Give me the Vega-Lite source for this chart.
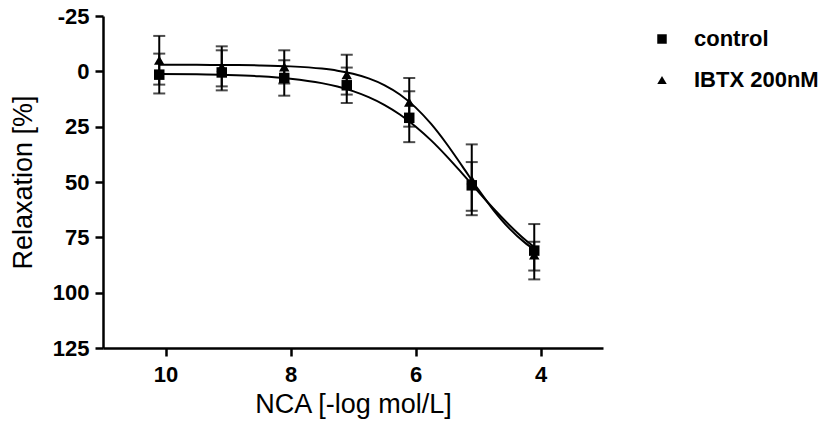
{
  "$schema": "https://vega.github.io/schema/vega-lite/v6.json",
  "width": 500,
  "height": 332,
  "autosize": "none",
  "padding": {"left": 103, "top": 16, "right": 226, "bottom": 77},
  "background": "white",
  "config": {
    "view": {"stroke": null},
    "font": "Liberation Sans",
    "axis": {
      "grid": false,
      "domainColor": "black",
      "domainWidth": 2.5,
      "tickColor": "black",
      "tickWidth": 2.5,
      "tickSize": 8,
      "labelFont": "Liberation Sans",
      "labelFontWeight": "bold",
      "labelFontSize": 22,
      "labelColor": "black",
      "titleFont": "Liberation Sans",
      "titleFontWeight": "normal",
      "titleFontSize": 27,
      "titleColor": "black"
    }
  },
  "datasets": {
    "points": [
      {"series": "control", "x": 10.1, "y": 1.5, "lo": -8, "hi": 10},
      {"series": "control", "x": 9.1, "y": 0.5, "lo": -9.5, "hi": 8.6},
      {"series": "control", "x": 8.1, "y": 3, "lo": -5, "hi": 11},
      {"series": "control", "x": 7.1, "y": 6.3, "lo": -1.7, "hi": 14.3},
      {"series": "control", "x": 6.1, "y": 21, "lo": 9, "hi": 32},
      {"series": "control", "x": 5.1, "y": 51.5, "lo": 41, "hi": 63},
      {"series": "control", "x": 4.1, "y": 81, "lo": 69, "hi": 94},
      {"series": "IBTX 200nM", "x": 10.1, "y": -5, "lo": -16, "hi": 6},
      {"series": "IBTX 200nM", "x": 9.1, "y": -2, "lo": -11.3, "hi": 6.8},
      {"series": "IBTX 200nM", "x": 8.1, "y": -2, "lo": -9.5, "hi": 5.5},
      {"series": "IBTX 200nM", "x": 7.1, "y": 1.5, "lo": -7.5, "hi": 10.5},
      {"series": "IBTX 200nM", "x": 6.1, "y": 14, "lo": 3, "hi": 25},
      {"series": "IBTX 200nM", "x": 5.1, "y": 49, "lo": 33, "hi": 65},
      {"series": "IBTX 200nM", "x": 4.1, "y": 83, "lo": 77, "hi": 90}
    ],
    "curves": [
      {"series": "control", "x": 10.1, "y": 1.16},
      {"series": "control", "x": 9.5, "y": 1.34},
      {"series": "control", "x": 9.0, "y": 1.65},
      {"series": "control", "x": 8.5, "y": 2.23},
      {"series": "control", "x": 8.0, "y": 3.32},
      {"series": "control", "x": 7.5, "y": 5.33},
      {"series": "control", "x": 7.25, "y": 6.88},
      {"series": "control", "x": 7.0, "y": 8.94},
      {"series": "control", "x": 6.75, "y": 11.65},
      {"series": "control", "x": 6.5, "y": 15.12},
      {"series": "control", "x": 6.25, "y": 19.5},
      {"series": "control", "x": 6.0, "y": 24.9},
      {"series": "control", "x": 5.75, "y": 31.2},
      {"series": "control", "x": 5.5, "y": 38.4},
      {"series": "control", "x": 5.25, "y": 46.2},
      {"series": "control", "x": 5.0, "y": 54.2},
      {"series": "control", "x": 4.75, "y": 62.1},
      {"series": "control", "x": 4.5, "y": 69.4},
      {"series": "control", "x": 4.25, "y": 76.0},
      {"series": "control", "x": 4.1, "y": 79.4},
      {"series": "IBTX 200nM", "x": 10.1, "y": -2.98},
      {"series": "IBTX 200nM", "x": 9.5, "y": -2.94},
      {"series": "IBTX 200nM", "x": 9.0, "y": -2.86},
      {"series": "IBTX 200nM", "x": 8.5, "y": -2.68},
      {"series": "IBTX 200nM", "x": 8.0, "y": -2.24},
      {"series": "IBTX 200nM", "x": 7.5, "y": -1.23},
      {"series": "IBTX 200nM", "x": 7.25, "y": -0.3},
      {"series": "IBTX 200nM", "x": 7.0, "y": 1.1},
      {"series": "IBTX 200nM", "x": 6.75, "y": 3.18},
      {"series": "IBTX 200nM", "x": 6.5, "y": 6.2},
      {"series": "IBTX 200nM", "x": 6.25, "y": 10.46},
      {"series": "IBTX 200nM", "x": 6.0, "y": 16.28},
      {"series": "IBTX 200nM", "x": 5.75, "y": 23.78},
      {"series": "IBTX 200nM", "x": 5.5, "y": 32.83},
      {"series": "IBTX 200nM", "x": 5.25, "y": 42.93},
      {"series": "IBTX 200nM", "x": 5.0, "y": 53.2},
      {"series": "IBTX 200nM", "x": 4.75, "y": 62.77},
      {"series": "IBTX 200nM", "x": 4.5, "y": 70.93},
      {"series": "IBTX 200nM", "x": 4.25, "y": 77.4},
      {"series": "IBTX 200nM", "x": 4.1, "y": 80.5}
    ]
  },
  "encoding": {
    "x": {
      "field": "x",
      "type": "quantitative",
      "scale": {"domain": [3, 11], "reverse": true, "nice": false, "zero": false},
      "axis": {"values": [10, 8, 6, 4], "format": "d", "labelPadding": 8, "titlePadding": 6, "title": "NCA [-log mol/L]"}
    },
    "y": {
      "field": "y",
      "type": "quantitative",
      "scale": {"domain": [-25, 125], "reverse": true, "nice": false, "zero": false},
      "axis": {
        "values": [-25, 0, 25, 50, 75, 100, 125],
        "labelExpr": "datum.value < 0 ? '-' + abs(datum.value) : '' + datum.value",
        "labelPadding": 6,
        "titlePadding": 15,
        "title": "Relaxation [%]"
      }
    }
  },
  "layer": [
    {
      "data": {"name": "curves"},
      "mark": {"type": "line", "color": "black", "strokeWidth": 2, "interpolate": "monotone"},
      "encoding": {"detail": {"field": "series"}}
    },
    {
      "data": {"name": "points"},
      "mark": {"type": "rule", "color": "black", "strokeWidth": 2},
      "encoding": {"y": {"field": "lo", "type": "quantitative"}, "y2": {"field": "hi"}}
    },
    {
      "data": {"name": "points"},
      "mark": {"type": "tick", "orient": "horizontal", "color": "black", "size": 12, "thickness": 2},
      "encoding": {"y": {"field": "lo", "type": "quantitative"}}
    },
    {
      "data": {"name": "points"},
      "mark": {"type": "tick", "orient": "horizontal", "color": "black", "size": 12, "thickness": 2},
      "encoding": {"y": {"field": "hi", "type": "quantitative"}}
    },
    {
      "data": {"name": "points"},
      "mark": {"type": "point", "filled": true, "size": 110, "opacity": 1, "color": "black"},
      "encoding": {
        "shape": {
          "field": "series",
          "type": "nominal",
          "sort": ["control", "IBTX 200nM"],
          "scale": {"domain": ["control", "IBTX 200nM"], "range": ["square", "triangle-up"]},
          "legend": {
            "title": null,
            "orient": "none",
            "legendX": 548,
            "legendY": 12,
            "symbolSize": 90,
            "symbolFillColor": "black",
            "symbolStrokeColor": "black",
            "symbolStrokeWidth": 0,
            "labelFontSize": 22,
            "labelFontWeight": "bold",
            "labelColor": "black",
            "labelFont": "Liberation Sans",
            "labelOffset": 21,
            "rowPadding": 19
          }
        }
      }
    }
  ]
}
